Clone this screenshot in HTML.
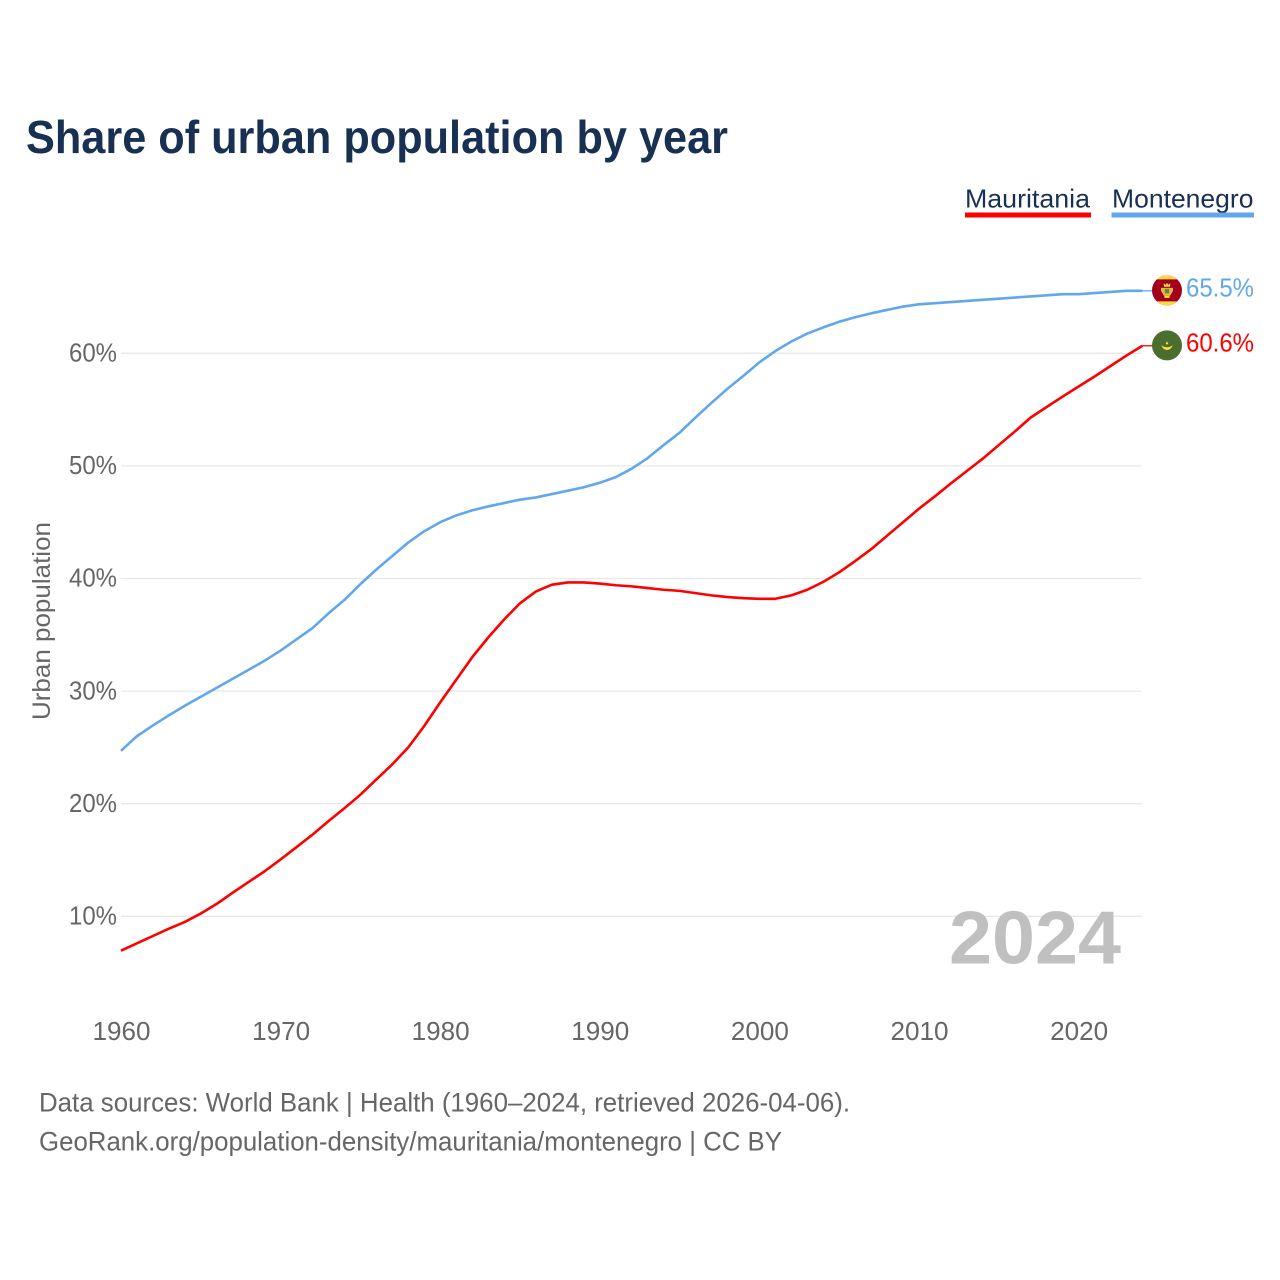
<!DOCTYPE html>
<html lang="en">
<head>
<meta charset="utf-8">
<title>Share of urban population by year</title>
<style>
html,body{margin:0;padding:0;background:#fff;width:1280px;height:1280px;overflow:hidden}
svg{display:block;font-family:"Liberation Sans",sans-serif}
</style>
</head>
<body>
<svg id="chart" xmlns="http://www.w3.org/2000/svg" width="1280" height="1280" viewBox="0 0 1280 1280">
  <rect width="1280" height="1280" fill="#fff"/>
  <text x="26" y="153" font-size="46" font-weight="700" fill="#183153" textLength="702" lengthAdjust="spacingAndGlyphs">Share of urban population by year</text>
  <g>
    <g>
      <text x="965" y="207.5" font-size="26" fill="#183153" textLength="125" lengthAdjust="spacingAndGlyphs">Mauritania</text>
      <rect x="965" y="212.5" width="126" height="5" fill="#ff0000"/>
    </g>
    <g>
      <text x="1112" y="207.5" font-size="26" fill="#183153" textLength="141.5" lengthAdjust="spacingAndGlyphs">Montenegro</text>
      <rect x="1111.5" y="212.5" width="142.5" height="5" fill="#62a7ec"/>
    </g>
  </g>
  <g id="grid"></g>
  <g id="yticks"></g>
  <g id="xticks"></g>
  <text transform="translate(50,720) rotate(-90)" font-size="25" fill="#666" textLength="198" lengthAdjust="spacingAndGlyphs">Urban population</text>
  <text x="949" y="963.5" font-size="75" font-weight="700" fill="#c0c0c0" textLength="172" lengthAdjust="spacingAndGlyphs">2024</text>
  <g id="series"></g>
  <g id="flag-montenegro">
    <circle cx="0" cy="0" r="15" fill="#a2001d"/>
    <path d="M-10.2,-11 A15,15 0 0 1 10.2,-11 Z" fill="#ffda44"/>
    <path d="M-10.2,11 A15,15 0 0 0 10.2,11 Z" fill="#ffda44"/>
    <path d="M-3,-3.6 L-3.4,-7 L-1.2,-5.6 L0,-7.6 L1.2,-5.6 L3.4,-7 L3,-3.6 Z" fill="#ffda44"/>
    <path d="M-6,-2.5 H6 V0.5 L3,5.5 H-3 L-6,0.5 Z" fill="#e8b93a"/>
    <rect x="-2.2" y="-1.6" width="4.4" height="4.6" fill="#5f8a4a"/>
    <rect x="-2.6" y="5.5" width="5.2" height="2" fill="#ffda44"/>
  </g>
  <g id="flag-mauritania">
    <circle cx="0" cy="0" r="15" fill="#496e2d"/>
    <path d="M-5,0.6 A5.2,5.2 0 0 0 5,0.6 A6.4,4.2 0 0 1 -5,0.6 Z" fill="#ffda44" stroke="#ffda44" stroke-width="0.6"/>
    <path d="M-1.3,-1.8 L0,-4 L1.3,-1.8 L0,-0.6 Z" fill="#ffda44"/>
  </g>
  <g id="endlabels"></g>
  <g>
    <text x="39" y="1111.5" font-size="26.5" fill="#666" textLength="811" lengthAdjust="spacingAndGlyphs">Data sources: World Bank | Health (1960–2024, retrieved 2026-04-06).</text>
    <text x="39" y="1150.5" font-size="26.5" fill="#666" textLength="743" lengthAdjust="spacingAndGlyphs">GeoRank.org/population-density/mauritania/montenegro | CC BY</text>
  </g>
</svg>
<script>
const firstYear = 1960;
const yTickValues = [10, 20, 30, 40, 50, 60];
const yTickLabels = ['10%', '20%', '30%', '40%', '50%', '60%'];
const xTickValues = [1960, 1970, 1980, 1990, 2000, 2010, 2020];
const xTickLabels = ['1960', '1970', '1980', '1990', '2000', '2010', '2020'];
const mauritaniaValues = [6.95,7.6,8.25,8.9,9.5,10.25,11.1,12.1,13.05,14,15.05,16.15,17.25,18.45,19.6,20.8,22.15,23.5,25,26.9,29,31,33,34.75,36.35,37.8,38.85,39.45,39.65,39.65,39.55,39.4,39.3,39.15,39,38.9,38.7,38.5,38.35,38.25,38.2,38.2,38.5,39,39.7,40.55,41.55,42.6,43.8,45,46.2,47.3,48.45,49.55,50.65,51.85,53.05,54.3,55.23,56.16,57.05,57.94,58.87,59.8,60.67];
const montenegroValues = [24.7,26,26.95,27.85,28.7,29.5,30.3,31.1,31.9,32.7,33.6,34.6,35.6,36.9,38.1,39.5,40.8,42,43.2,44.2,45,45.6,46.05,46.4,46.7,47,47.2,47.5,47.8,48.1,48.5,49,49.75,50.7,51.85,52.95,54.3,55.6,56.85,58,59.2,60.2,61.05,61.75,62.3,62.8,63.2,63.55,63.85,64.15,64.35,64.45,64.55,64.65,64.75,64.85,64.95,65.05,65.15,65.25,65.25,65.35,65.45,65.55,65.55];
const latestLabels = ['60.6%', '65.5%'];

const NS = 'http://www.w3.org/2000/svg';
function xScale(year) { return 121 + (year - 1960) * 15.96; }
function yScale(v) { return 916.3 - (v - 10) * 11.26; }
function make(tag, attrs, parent, text) {
  const el = document.createElementNS(NS, tag);
  for (const k in attrs) el.setAttribute(k, attrs[k]);
  if (text !== undefined) el.textContent = text;
  parent.appendChild(el);
  return el;
}
const gridG = document.getElementById('grid');
const yG = document.getElementById('yticks');
const xG = document.getElementById('xticks');
const seriesG = document.getElementById('series');
const labelsG = document.getElementById('endlabels');
const lastYear = firstYear + mauritaniaValues.length - 1;

yTickValues.forEach(function (v, i) {
  const y = yScale(v);
  const line = make('line', {x1: 121, x2: xScale(lastYear) - 0.8, y1: y, y2: y, stroke: '#e9e9e9', 'stroke-width': 1.3}, gridG);
  
  
  const t = make('text', {x: 117, y: y + 8.2, 'font-size': 25.5, fill: '#666', 'text-anchor': 'end', textLength: 48, lengthAdjust: 'spacingAndGlyphs'}, yG, yTickLabels[i]);
  
  
});

xTickValues.forEach(function (yr, i) {
  const t = make('text', {x: xScale(yr) + 0.5, y: 1040, 'font-size': 25.5, fill: '#666', 'text-anchor': 'middle', textLength: 58, lengthAdjust: 'spacingAndGlyphs'}, xG, xTickLabels[i]);
  
  
});

function drawSeries(values, color, name, labelText, flagId) {
  const pts = values.map(function (v, i) { return xScale(firstYear + i).toFixed(2) + ',' + yScale(v).toFixed(2); }).join(' ');
  const line = make('polyline', {points: pts, fill: 'none', stroke: color, 'stroke-width': 2.6, 'stroke-linejoin': 'round'}, seriesG);
  
  
  const endX = xScale(lastYear);
  const endY = yScale(values[values.length - 1]);
  const stub = make('line', {x1: endX, x2: endX + 11, y1: endY, y2: endY, stroke: color, 'stroke-width': 1.3}, seriesG);
  
  
  document.getElementById(flagId).setAttribute('transform', 'translate(1167,' + (endY - 0.4) + ')');
  const t = make('text', {x: 1186, y: endY + 5.7, 'font-size': 25.5, fill: color, textLength: 68, lengthAdjust: 'spacingAndGlyphs'}, labelsG, labelText);
  
  
}
drawSeries(mauritaniaValues, '#ff0000', 'mauritania', latestLabels[0], 'flag-mauritania');
drawSeries(montenegroValues, '#62a7ec', 'montenegro', latestLabels[1], 'flag-montenegro');
</script>
</body>
</html>
